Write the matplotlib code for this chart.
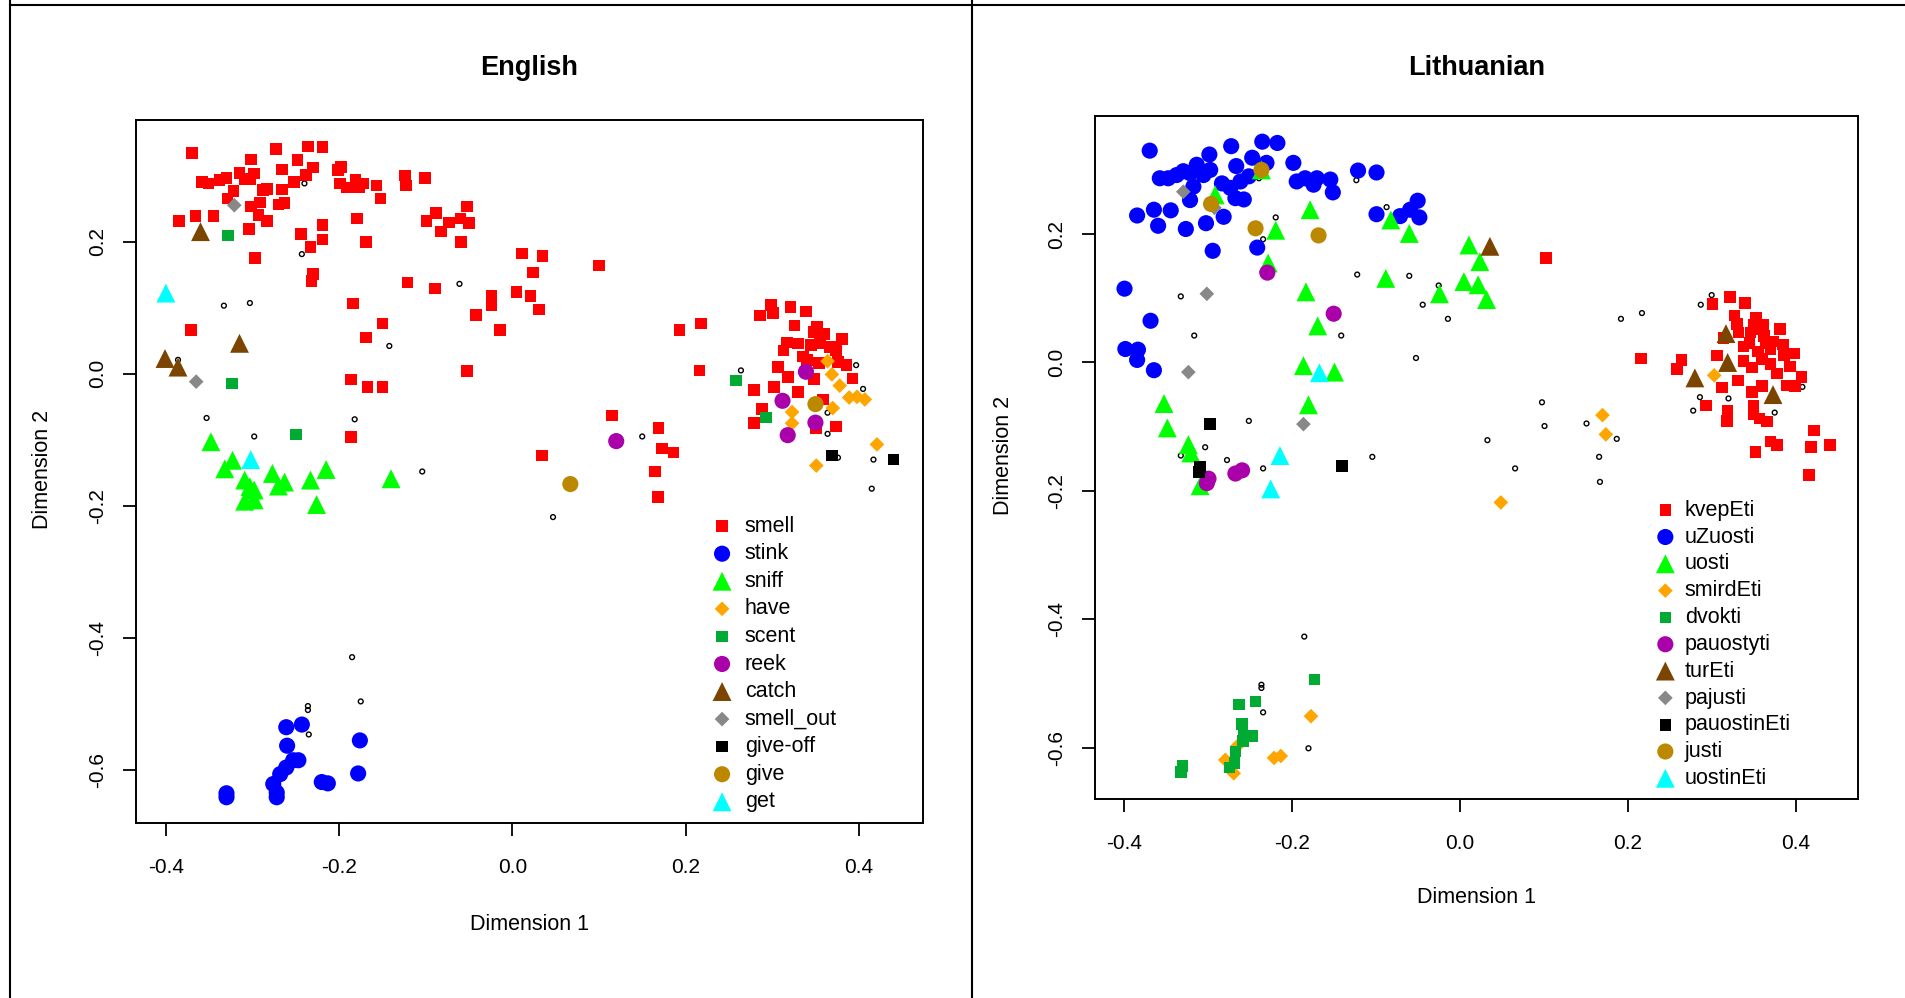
import matplotlib.pyplot as plt
from matplotlib.lines import Line2D

plt.rcParams['font.family'] = ['Liberation Sans', 'DejaVu Sans']

# ---------------- English panel (x, y) ----------------
en_smell = [(-0.370, 0.334), (-0.273, 0.340), (-0.236, 0.344), (-0.219, 0.343), (-0.302, 0.324),
            (-0.248, 0.323), (-0.266, 0.309), (-0.230, 0.312), (-0.238, 0.301), (-0.198, 0.313),
            (-0.201, 0.308), (-0.358, 0.290), (-0.351, 0.288), (-0.338, 0.293), (-0.330, 0.296),
            (-0.315, 0.304), (-0.309, 0.295), (-0.298, 0.303), (-0.303, 0.295), (-0.322, 0.277),
            (-0.329, 0.265), (-0.288, 0.278), (-0.283, 0.280), (-0.266, 0.279), (-0.252, 0.290),
            (-0.302, 0.253), (-0.291, 0.259), (-0.293, 0.240), (-0.283, 0.231), (-0.270, 0.256),
            (-0.263, 0.258), (-0.385, 0.231), (-0.366, 0.239), (-0.345, 0.239), (-0.304, 0.219),
            (-0.219, 0.225), (-0.244, 0.211), (-0.219, 0.203), (-0.233, 0.192), (-0.297, 0.175),
            (-0.230, 0.151), (-0.232, 0.140), (-0.199, 0.288), (-0.191, 0.282), (-0.181, 0.293),
            (-0.172, 0.288), (-0.177, 0.282), (-0.157, 0.285), (-0.152, 0.265), (-0.179, 0.235),
            (-0.169, 0.199), (-0.124, 0.300), (-0.123, 0.285), (-0.101, 0.296), (-0.052, 0.253),
            (-0.088, 0.243), (-0.099, 0.231), (-0.073, 0.229), (-0.060, 0.235), (-0.050, 0.228),
            (-0.082, 0.215), (-0.059, 0.199), (0.011, 0.182), (0.035, 0.178), (0.024, 0.153),
            (0.005, 0.124), (0.021, 0.118), (0.031, 0.097), (-0.024, 0.118), (-0.024, 0.104),
            (-0.042, 0.089), (-0.014, 0.066), (-0.121, 0.138), (-0.089, 0.129), (-0.184, 0.106),
            (-0.150, 0.076), (-0.169, 0.055), (-0.371, 0.066), (-0.052, 0.004), (-0.186, -0.009),
            (-0.167, -0.020), (-0.150, -0.020), (0.100, 0.164), (0.193, 0.066), (0.218, 0.076),
            (0.216, 0.005), (0.299, 0.104), (0.301, 0.092), (0.286, 0.088), (0.321, 0.101),
            (0.339, 0.094), (0.326, 0.073), (0.352, 0.071), (0.360, 0.060), (0.348, 0.063),
            (0.381, 0.053), (0.317, 0.047), (0.330, 0.046), (0.313, 0.035), (0.345, 0.043),
            (0.355, 0.046), (0.367, 0.040), (0.374, 0.035), (0.336, 0.026), (0.340, 0.021),
            (0.354, 0.016), (0.376, 0.018), (0.386, 0.013), (0.307, 0.010), (0.318, -0.005),
            (0.348, -0.008), (0.393, -0.007), (0.302, -0.020), (0.330, -0.028), (0.279, -0.025),
            (0.359, -0.039), (0.288, -0.053), (0.115, -0.063), (0.034, -0.124), (0.169, -0.082),
            (0.173, -0.113), (0.186, -0.119), (0.165, -0.148), (0.168, -0.187), (0.279, -0.075),
            (0.351, -0.083), (0.374, -0.080), (-0.186, -0.096)]
en_stink = [(-0.330, -0.635), (-0.330, -0.641), (-0.261, -0.535), (-0.243, -0.531), (-0.260, -0.563),
            (-0.253, -0.585), (-0.247, -0.585), (-0.261, -0.596), (-0.268, -0.606), (-0.276, -0.621),
            (-0.272, -0.634), (-0.272, -0.641), (-0.220, -0.618), (-0.213, -0.620), (-0.176, -0.555),
            (-0.178, -0.605)]
en_sniff = [(-0.348, -0.103), (-0.323, -0.131), (-0.332, -0.144), (-0.309, -0.161), (-0.303, -0.171),
            (-0.298, -0.176), (-0.309, -0.193), (-0.298, -0.191), (-0.277, -0.151), (-0.263, -0.164),
            (-0.270, -0.170), (-0.233, -0.161), (-0.215, -0.145), (-0.226, -0.198), (-0.140, -0.159)]
en_have = [(0.364, 0.019), (0.369, -0.001), (0.378, -0.018), (0.389, -0.036), (0.398, -0.035),
           (0.407, -0.039), (0.370, -0.052), (0.323, -0.058), (0.323, -0.075), (0.421, -0.107),
           (0.351, -0.139)]
en_scent = [(-0.328, 0.209), (-0.324, -0.015), (0.258, -0.010), (0.293, -0.066), (-0.250, -0.092)]
en_reek = [(0.339, 0.003), (0.312, -0.041), (0.350, -0.074), (0.318, -0.093), (0.120, -0.102)]
en_catch = [(-0.360, 0.215), (-0.315, 0.046), (-0.401, 0.023), (-0.386, 0.010)]
en_smell_out = [(-0.321, 0.255), (-0.365, -0.012)]
en_give_off = [(0.369, -0.124), (0.440, -0.130)]
en_give = [(0.350, -0.046), (0.067, -0.167)]
en_get = [(-0.400, 0.122), (-0.302, -0.130)]
en_other = [(-0.240, 0.288), (-0.243, 0.181), (-0.333, 0.103), (-0.303, 0.107), (-0.061, 0.136),
            (-0.142, 0.042), (-0.386, 0.021), (0.264, 0.005), (0.397, 0.013), (0.405, -0.023),
            (0.047, -0.217), (0.150, -0.095), (0.364, -0.059), (0.364, -0.091), (0.376, -0.127),
            (0.417, -0.130), (0.415, -0.174), (-0.353, -0.067), (-0.298, -0.095), (-0.182, -0.069),
            (-0.104, -0.148), (-0.185, -0.429), (-0.175, -0.496), (-0.236, -0.503), (-0.236, -0.509),
            (-0.235, -0.546)]
en_labels = ['smell', 'stink', 'sniff', 'have', 'scent', 'reek', 'catch', 'smell_out',
             'give-off', 'give', 'get']

# ---------------- Lithuanian panel (x, y) ----------------
lt_kvepEti = [(0.103, 0.163), (0.216, 0.006), (0.264, 0.004), (0.259, -0.010), (0.301, 0.091),
              (0.322, 0.102), (0.340, 0.093), (0.327, 0.073), (0.353, 0.069), (0.350, 0.059),
              (0.361, 0.059), (0.332, 0.047), (0.346, 0.047), (0.381, 0.052), (0.362, 0.041),
              (0.373, 0.033), (0.338, 0.025), (0.355, 0.017), (0.370, 0.020), (0.386, 0.012),
              (0.398, 0.014), (0.306, 0.011), (0.338, 0.002), (0.348, -0.008), (0.370, -0.002),
              (0.393, -0.006), (0.378, -0.017), (0.407, -0.023), (0.389, -0.036), (0.399, -0.037),
              (0.331, -0.028), (0.312, -0.039), (0.360, -0.037), (0.348, -0.046), (0.293, -0.067),
              (0.319, -0.075), (0.318, -0.091), (0.350, -0.068), (0.350, -0.081), (0.357, -0.087),
              (0.366, -0.092), (0.422, -0.106), (0.370, -0.123), (0.378, -0.129), (0.418, -0.132),
              (0.441, -0.129), (0.352, -0.139), (0.416, -0.175), (0.314, 0.038), (0.355, 0.052),
              (0.365, 0.030), (0.385, 0.028), (0.345, 0.030), (0.360, 0.005), (0.330, 0.060)]
lt_uZuosti = [(-0.369, 0.330), (-0.272, 0.337), (-0.235, 0.344), (-0.217, 0.342), (-0.298, 0.324),
              (-0.247, 0.319), (-0.230, 0.311), (-0.266, 0.306), (-0.198, 0.311), (-0.313, 0.308),
              (-0.329, 0.298), (-0.297, 0.300), (-0.357, 0.287), (-0.347, 0.287), (-0.337, 0.292),
              (-0.321, 0.295), (-0.305, 0.292), (-0.317, 0.274), (-0.321, 0.253), (-0.283, 0.279),
              (-0.273, 0.272), (-0.261, 0.282), (-0.251, 0.290), (-0.267, 0.256), (-0.257, 0.254),
              (-0.194, 0.282), (-0.184, 0.287), (-0.174, 0.277), (-0.170, 0.287), (-0.154, 0.285),
              (-0.151, 0.265), (-0.121, 0.299), (-0.099, 0.296), (-0.384, 0.229), (-0.364, 0.238),
              (-0.344, 0.237), (-0.359, 0.213), (-0.326, 0.208), (-0.302, 0.217), (-0.281, 0.227),
              (-0.294, 0.174), (-0.241, 0.179), (-0.099, 0.231), (-0.071, 0.228), (-0.059, 0.238),
              (-0.050, 0.252), (-0.048, 0.226), (-0.399, 0.115), (-0.368, 0.065), (-0.398, 0.021),
              (-0.383, 0.020), (-0.384, 0.004), (-0.364, -0.012)]
lt_uosti = [(-0.236, 0.300), (-0.291, 0.261), (-0.178, 0.238), (-0.219, 0.206), (-0.228, 0.155),
            (-0.082, 0.222), (-0.060, 0.201), (0.011, 0.183), (0.024, 0.157), (0.005, 0.126),
            (0.022, 0.121), (0.032, 0.098), (-0.088, 0.131), (-0.024, 0.107), (-0.183, 0.110),
            (-0.169, 0.057), (-0.186, -0.005), (-0.149, -0.015), (-0.352, -0.064), (-0.180, -0.066),
            (-0.348, -0.102), (-0.323, -0.128), (-0.320, -0.141), (-0.309, -0.192)]
lt_smirdEti = [(0.303, -0.020), (0.170, -0.082), (0.174, -0.112), (0.049, -0.218), (-0.177, -0.551),
               (-0.265, -0.598), (-0.279, -0.619), (-0.269, -0.640), (-0.221, -0.616), (-0.213, -0.613)]
lt_dvokti = [(-0.173, -0.494), (-0.263, -0.533), (-0.243, -0.528), (-0.259, -0.563), (-0.257, -0.582),
             (-0.247, -0.582), (-0.258, -0.590), (-0.267, -0.606), (-0.268, -0.624), (-0.274, -0.631),
             (-0.330, -0.629), (-0.332, -0.638)]
lt_pauostyti = [(-0.229, 0.140), (-0.150, 0.076), (-0.299, -0.181), (-0.301, -0.188), (-0.267, -0.173),
                (-0.259, -0.168)]
lt_turEti = [(0.036, 0.181), (0.317, 0.045), (0.319, 0.000), (0.280, -0.024), (0.373, -0.050)]
lt_pajusti = [(-0.329, 0.266), (-0.292, 0.241), (-0.301, 0.107), (-0.323, -0.015), (-0.186, -0.096)]
lt_pauostinEti = [(-0.297, -0.096), (-0.309, -0.163), (-0.310, -0.171), (-0.140, -0.161)]
lt_justi = [(-0.236, 0.300), (-0.296, 0.247), (-0.243, 0.209), (-0.168, 0.198)]
lt_uostinEti = [(-0.167, -0.016), (-0.214, -0.145), (-0.225, -0.197)]
lt_other = [(-0.239, 0.287), (-0.123, 0.284), (-0.219, 0.226), (-0.234, 0.192), (-0.087, 0.242),
            (-0.122, 0.137), (-0.060, 0.135), (-0.025, 0.120), (-0.044, 0.090), (-0.014, 0.068),
            (-0.141, 0.042), (-0.052, 0.007), (-0.332, 0.103), (-0.316, 0.042), (-0.251, -0.091),
            (-0.303, -0.132), (-0.332, -0.145), (-0.277, -0.152), (-0.234, -0.165), (-0.104, -0.147),
            (0.033, -0.121), (0.300, 0.105), (0.287, 0.090), (0.217, 0.077), (0.192, 0.068),
            (0.286, -0.054), (0.320, -0.056), (0.278, -0.075), (0.375, -0.078), (0.408, -0.038),
            (0.098, -0.062), (0.101, -0.099), (0.151, -0.095), (0.187, -0.119), (0.166, -0.147),
            (0.167, -0.186), (0.066, -0.165), (-0.185, -0.427), (-0.236, -0.502), (-0.236, -0.507),
            (-0.234, -0.545), (-0.180, -0.601)]
lt_labels = ['kvepEti', 'uZuosti', 'uosti', 'smirdEti', 'dvokti', 'pauostyti', 'turEti', 'pajusti',
             'pauostinEti', 'justi', 'uostinEti']

xticks = [-0.4, -0.2, 0.0, 0.2, 0.4]
yticks = [-0.6, -0.4, -0.2, 0.0, 0.2]

# same style for each legend slot in both panels (R pch 15/16/17/18)
colors = ['#FF0000', '#0000FF', '#00FF00', '#FFA500', '#00AA33', '#AA00AA',
          '#7B4500', '#888888', '#000000', '#BB8800', '#00FFFF']
markers = ['s', 'o', '^', 'D', 's', 'o', '^', 'D', 's', 'o', '^']
msize = {'s': 70, 'o': 135, '^': 185, 'D': 56}


def draw_panel(ax, groups, labels, others, title, title_y, leg_anchor, leg_space, leg_pad):
    ox = [p[0] for p in others]
    oy = [p[1] for p in others]
    ax.scatter(ox, oy, s=12, facecolors='none', edgecolors='black', linewidths=1.0, zorder=2)
    for i, pts in enumerate(groups):
        xs = [p[0] for p in pts]
        ys = [p[1] for p in pts]
        ax.scatter(xs, ys, s=msize[markers[i]], marker=markers[i], c=colors[i],
                   edgecolors='none', label=labels[i], zorder=3)
    ax.set_xlim(-0.4345, 0.4742)
    ax.set_ylim(-0.680, 0.384)
    ax.set_xticks(xticks, [f'{v:.1f}' for v in xticks])
    ax.set_yticks(yticks, [f'{v:.1f}' for v in yticks], rotation=90, va='center')
    ax.tick_params(length=9.5, width=1.3, labelsize=15)
    ax.tick_params(axis='x', pad=15.5)
    ax.tick_params(axis='y', pad=11)
    for sp in ax.spines.values():
        sp.set_linewidth(1.4)
    ax.text(0.5, title_y, title, transform=ax.transAxes, ha='center', va='center',
            fontsize=19.5, fontweight='bold')
    ax.text(0.5, -0.144, 'Dimension 1', transform=ax.transAxes, ha='center', va='center', fontsize=15.5)
    ax.text(-0.119, 0.503, 'Dimension 2', transform=ax.transAxes, ha='center', va='center',
            rotation=90, fontsize=15.5)
    ax.legend(loc='upper left', bbox_to_anchor=leg_anchor, frameon=False, fontsize=15.5,
              borderpad=0, borderaxespad=0, handlelength=1.0, handletextpad=leg_pad,
              labelspacing=leg_space, scatterpoints=1)


fig = plt.figure(figsize=(19.06, 9.98), dpi=100)
ax1 = fig.add_axes([0.07135, 0.17535, 0.41291, 0.70441])
ax2 = fig.add_axes([0.57434, 0.19940, 0.40048, 0.68437])

draw_panel(ax1, [en_smell, en_stink, en_sniff, en_have, en_scent, en_reek, en_catch,
                 en_smell_out, en_give_off, en_give, en_get],
           en_labels, en_other, 'English', 1.0735, (0.731, 0.437), 0.305, 0.55)
draw_panel(ax2, [lt_kvepEti, lt_uZuosti, lt_uosti, lt_smirdEti, lt_dvokti, lt_pauostyti,
                 lt_turEti, lt_pajusti, lt_pauostinEti, lt_justi, lt_uostinEti],
           lt_labels, lt_other, 'Lithuanian', 1.070, (0.7335, 0.438), 0.27, 0.40)

# outer frame of the two R devices
for xs, ys in [([10 / 1906, 10 / 1906], [0, 1]), ([972 / 1906, 972 / 1906], [0, 1]),
               ([10 / 1906, 1], [1 - 5 / 998, 1 - 5 / 998])]:
    fig.add_artist(Line2D(xs, ys, transform=fig.transFigure, color='black', lw=1.5))

fig.savefig('out.png', dpi=100)
